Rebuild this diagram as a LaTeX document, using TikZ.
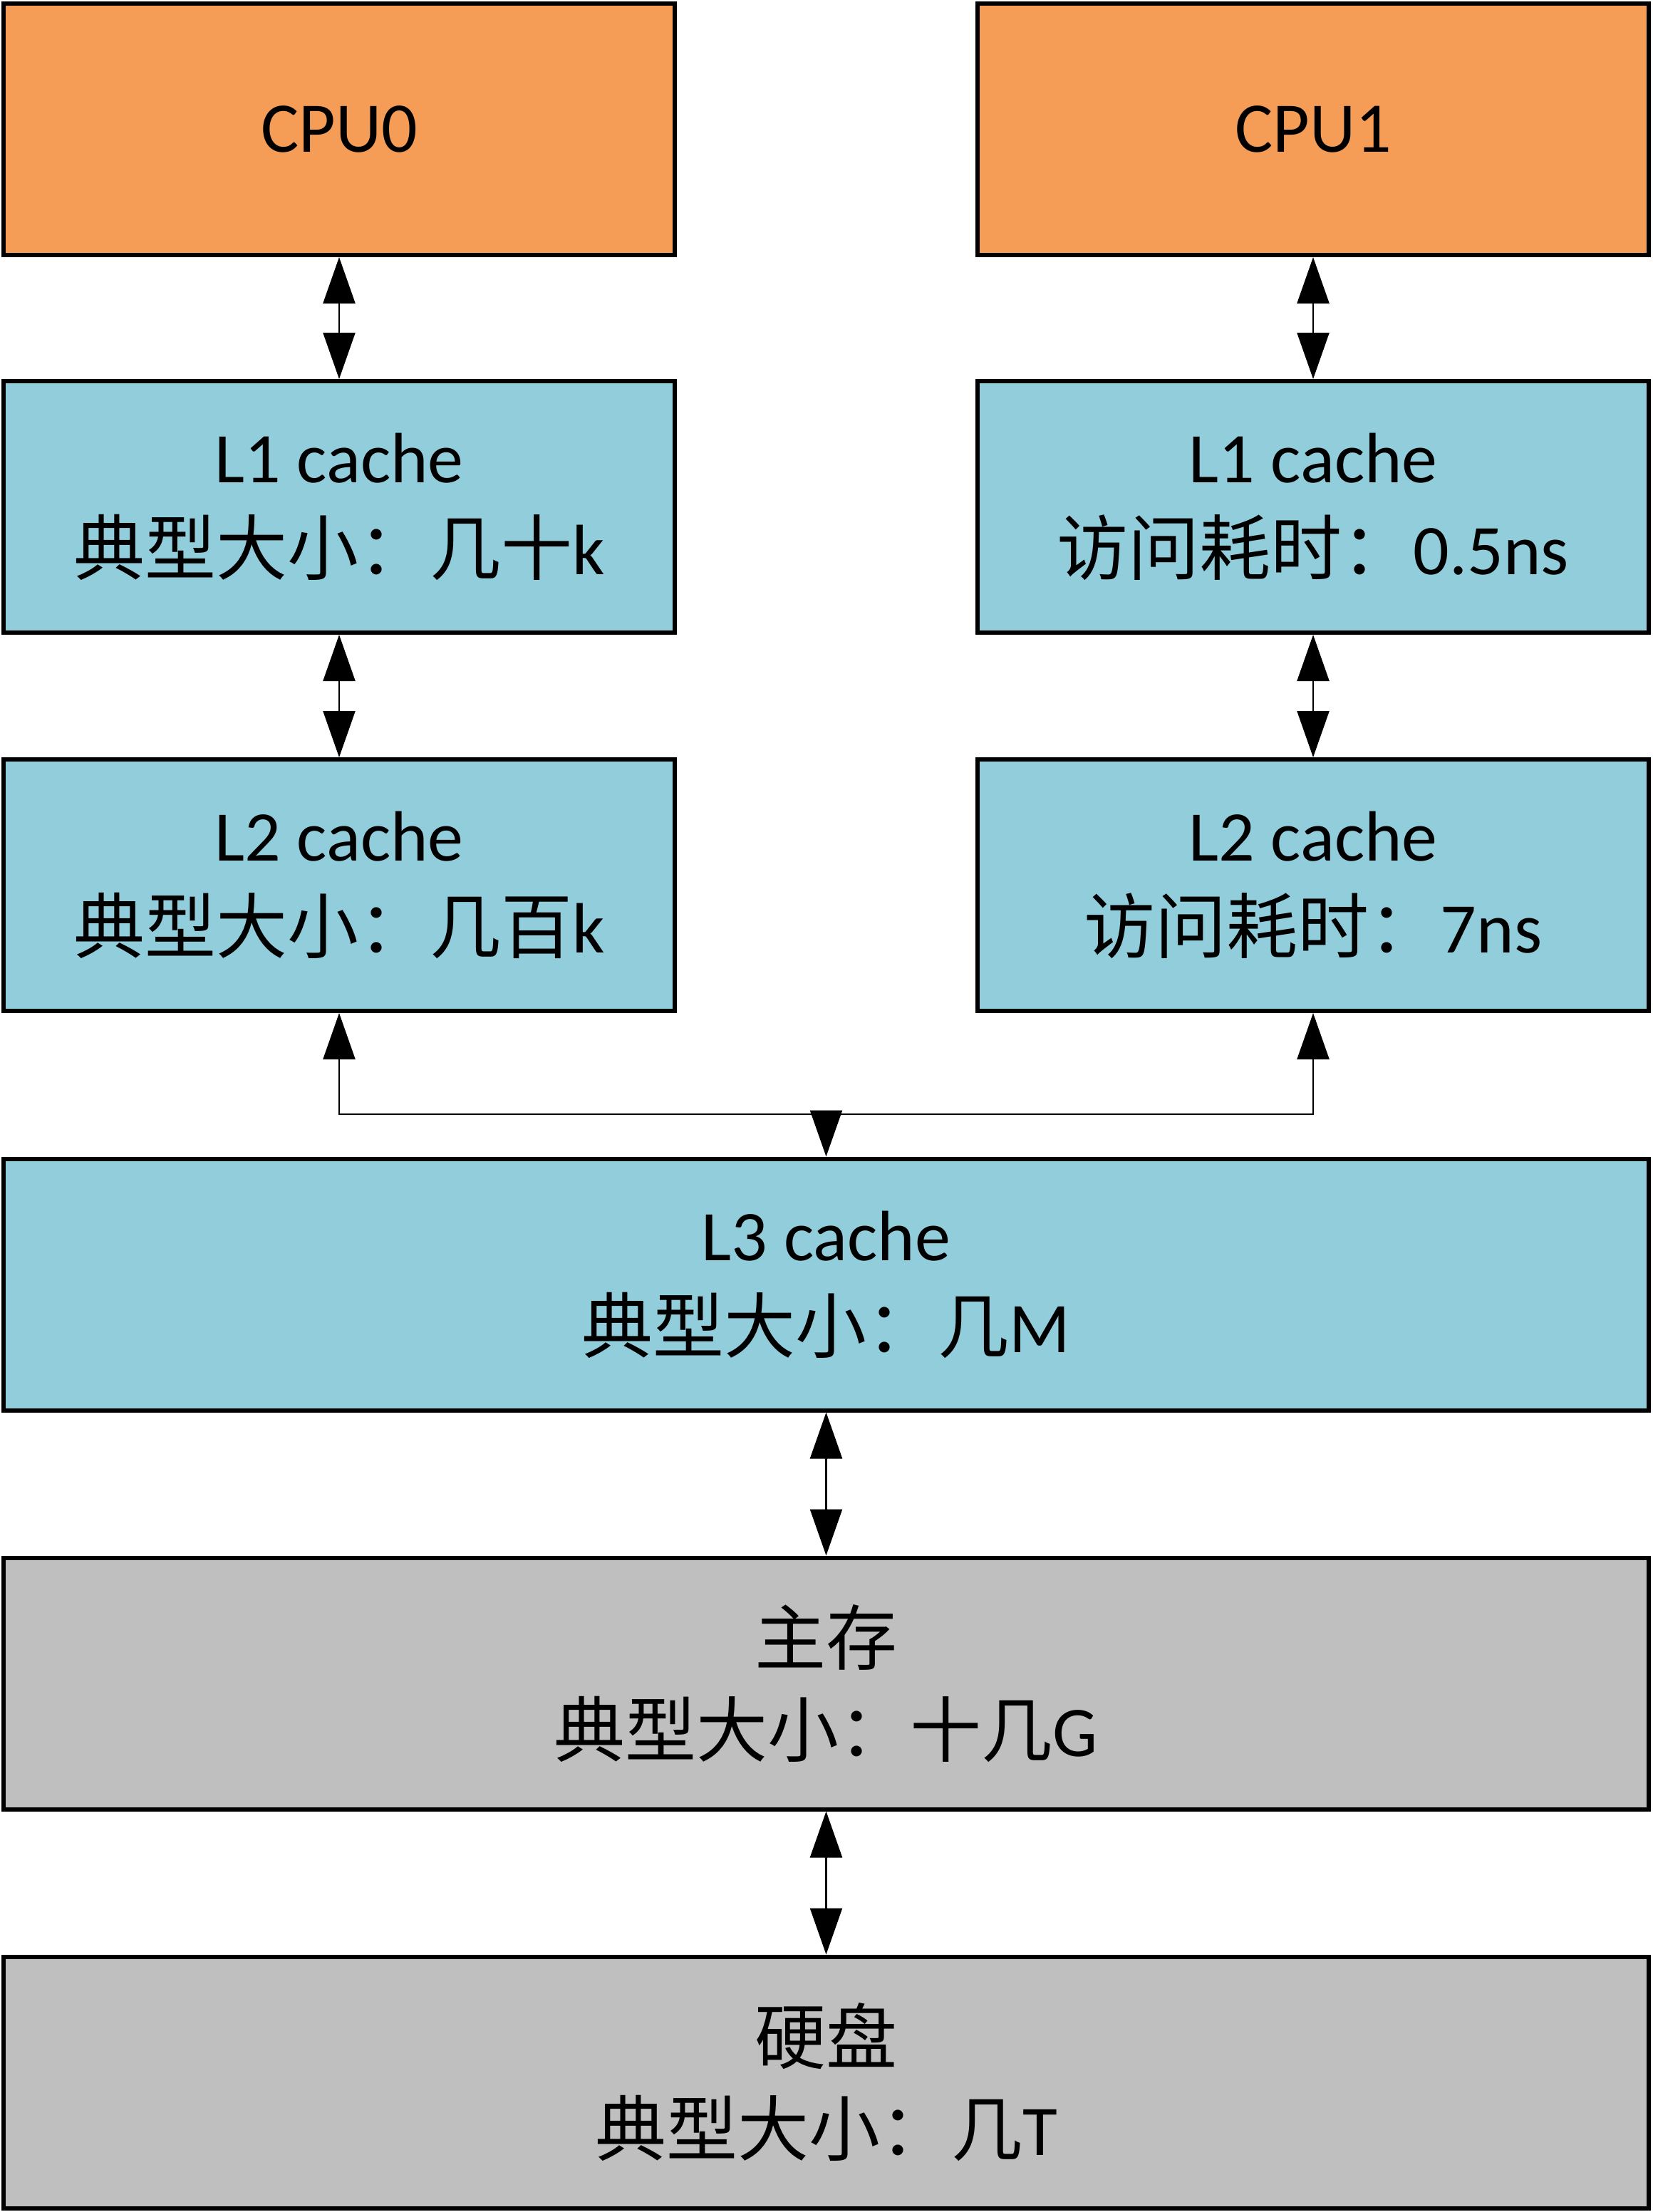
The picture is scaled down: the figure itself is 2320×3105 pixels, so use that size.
\documentclass[tikz,border=0pt]{standalone}
\usepackage{fontspec}
\setmainfont{Carlito}
\newfontfamily\cjk{Noto Sans CJK SC}
\usetikzlibrary{arrows.meta}
\definecolor{cpuorange}{HTML}{F59D56}
\definecolor{cacheblue}{HTML}{92CDDC}
\definecolor{memgray}{HTML}{BFBFBF}
\begin{document}
\begin{tikzpicture}[x=1pt,y=-1pt,
  box/.style={draw=black, line width=6pt, minimum width=942pt, minimum height=353pt,
    inner sep=0pt, align=center, text=black, font=\fontsize{100}{129}\selectfont},
  wide/.style={box, minimum width=2309pt},
  conn/.style={line width=2.4pt, draw=black},
  tipA/.style={-{Triangle[width=45pt,length=65pt]}},
  tipAB/.style={{Triangle[width=45pt,length=65pt]}-{Triangle[width=45pt,length=65pt]}}
]
\useasboundingbox (0,0) rectangle (2320,3105);
\fill[white] (0,0) rectangle (2320,3105);

\node[box, fill=cpuorange] (cpu0) at (476,181.5) {CPU0};
\node[box, fill=cpuorange] (cpu1) at (1843,181.5) {CPU1};
\node[box, fill=cacheblue] (l1a) at (476,711.5) {L1 cache\\{\cjk 典型大小：几十}k};
\node[box, fill=cacheblue] (l1b) at (1843,711.5) {L1 cache\\{\cjk 访问耗时：}0.5ns};
\node[box, fill=cacheblue] (l2a) at (476,1242.5) {L2 cache\\{\cjk 典型大小：几百}k};
\node[box, fill=cacheblue] (l2b) at (1843,1242.5) {L2 cache\\{\cjk 访问耗时：}7ns};
\node[wide, fill=cacheblue] (l3) at (1159.5,1803) {L3 cache\\{\cjk 典型大小：几}M};
\node[wide, fill=memgray] (mem) at (1159.5,2363) {{\cjk 主存}\\{\cjk 典型大小：十几}G};
\node[wide, fill=memgray] (disk) at (1159.5,2923) {{\cjk 硬盘}\\{\cjk 典型大小：几}T};

\coordinate (mid) at (1159.5,1564);

\draw[conn, tipAB] (cpu0.south) -- (l1a.north);
\draw[conn, tipAB] (cpu1.south) -- (l1b.north);
\draw[conn, tipAB] (l1a.south) -- (l2a.north);
\draw[conn, tipAB] (l1b.south) -- (l2b.north);
\draw[conn, tipAB] (l2a.south) |- (mid) -| (l2b.south);
\draw[conn, tipA] (mid) -- (l3.north);
\draw[conn, tipAB] (l3.south) -- (mem.north);
\draw[conn, tipAB] (mem.south) -- (disk.north);
\end{tikzpicture}
\end{document}
